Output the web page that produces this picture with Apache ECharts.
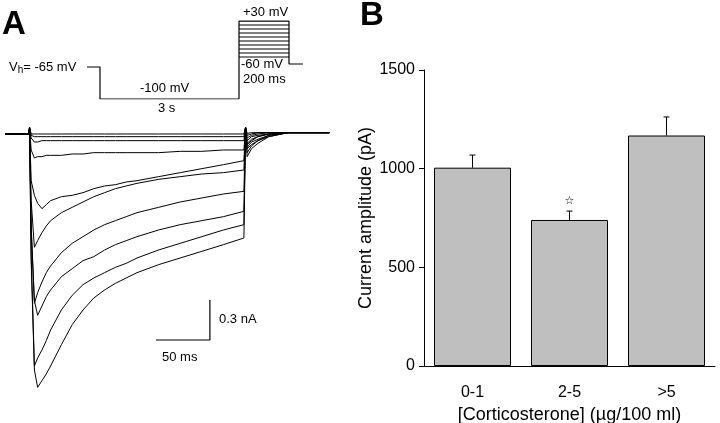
<!DOCTYPE html>
<html>
<head>
<meta charset="UTF-8">
<title>Corticosterone current</title>
<script src="https://cdn.jsdelivr.net/npm/echarts@6/dist/echarts.min.js"></script>
<style>
    body { margin: 0; padding: 0; background: #fff; }
    #chart { width: 720px; height: 423px; }
</style>
</head>
<body>
<div id="chart"></div>
<script>
// ---- panel A: current traces (time in ms, current in nA) ----
var traceTimes = [-22, -2, 0, 0.5, 2, 5, 8, 12, 16, 20, 30, 40, 50, 60, 70, 80, 90, 100,
                  120, 140, 160, 180, 199, 200, 200.5, 202, 206, 212, 222, 240, 260, 278];

var trace1  = [0, 0, 0, 0.05, 0, 0, 0, 0, 0, 0, 0, 0, 0, 0, 0, 0, 0, 0,
               0, 0, 0, 0, 0, 0, 0.05, 0.005, 0.01, 0.01, 0.01, 0.01, 0.01, 0.01];
var trace2  = [0, 0, 0, 0.05, -0.01, -0.02, -0.02, -0.02, -0.02, -0.02, -0.02, -0.02, -0.02, -0.02, -0.02, -0.02, -0.02, -0.02,
               -0.02, -0.02, -0.02, -0.02, -0.02, -0.02, 0.05, -0.01, 0, 0.01, 0.01, 0.01, 0.01, 0.01];
var trace3  = [0, 0, 0, 0.05, -0.03, -0.06, -0.06, -0.05, -0.05, -0.05, -0.05, -0.05, -0.05, -0.05, -0.05, -0.05, -0.05, -0.05,
               -0.05, -0.05, -0.05, -0.05, -0.05, -0.05, 0.05, -0.03, -0.01, 0, 0.01, 0.01, 0.01, 0.01];
var trace4  = [0, 0, 0, 0.05, -0.12, -0.18, -0.17, -0.17, -0.16, -0.16, -0.16, -0.15, -0.15, -0.14, -0.14, -0.14, -0.14, -0.14,
               -0.14, -0.13, -0.13, -0.12, -0.12, -0.12, 0.05, -0.05, -0.02, -0.01, 0, 0.01, 0.01, 0.01];
var trace5  = [0, 0, 0, 0.05, -0.35, -0.46, -0.52, -0.56, -0.53, -0.50, -0.47, -0.46, -0.44, -0.41, -0.39, -0.38, -0.36, -0.35,
               -0.32, -0.29, -0.26, -0.23, -0.20, -0.20, 0.05, -0.07, -0.04, -0.02, 0, 0.01, 0.01, 0.01];
var trace6  = [0, 0, 0, 0.05, -0.50, -0.85, -0.80, -0.74, -0.69, -0.65, -0.59, -0.55, -0.51, -0.47, -0.44, -0.41, -0.39, -0.37,
               -0.34, -0.32, -0.30, -0.29, -0.27, -0.27, 0.05, -0.08, -0.05, -0.02, 0, 0.01, 0.01, 0.01];
var trace7  = [0, 0, 0, 0.05, -0.68, -1.27, -1.19, -1.11, -1.04, -0.99, -0.89, -0.82, -0.77, -0.72, -0.68, -0.65, -0.62, -0.59,
               -0.55, -0.51, -0.48, -0.45, -0.43, -0.43, 0.05, -0.10, -0.06, -0.04, -0.01, 0.01, 0.01, 0.01];
var trace8  = [0, 0, 0, 0.05, -0.72, -1.25, -1.36, -1.29, -1.22, -1.17, -1.07, -1.01, -0.95, -0.92, -0.87, -0.83, -0.80, -0.77,
               -0.72, -0.68, -0.65, -0.62, -0.58, -0.58, 0.05, -0.11, -0.08, -0.05, -0.01, 0.01, 0.01, 0.01];
var trace9  = [0, 0, 0, 0.05, -0.91, -1.74, -1.68, -1.62, -1.55, -1.47, -1.32, -1.21, -1.13, -1.08, -1.04, -1.00, -0.97, -0.93,
               -0.87, -0.82, -0.77, -0.72, -0.68, -0.68, 0.05, -0.14, -0.09, -0.05, -0.02, 0.01, 0.01, 0.01];
var trace10 = [0, 0, 0, 0.05, -0.95, -1.77, -1.90, -1.85, -1.80, -1.74, -1.58, -1.43, -1.32, -1.23, -1.17, -1.12, -1.08, -1.04,
               -0.98, -0.93, -0.88, -0.83, -0.78, -0.78, 0.05, -0.17, -0.11, -0.07, -0.02, 0.01, 0.01, 0.01];

var traces = [trace1, trace2, trace3, trace4, trace5, trace6, trace7, trace8, trace9, trace10];

// scale bar: 50 ms x 0.3 nA
var scaleBarT = [117.5, 167.5, 167.5];
var scaleBarI = [-1.545, -1.545, -1.245];

// ---- voltage protocol, drawn schematically (not to scale) ----
var protoPathX = [0, 13, 13, 152, 152, 202, 202, 216];
var protoPathY = [32, 32, 0, 0, 78, 78, 35, 35];
var testStepY = [78, 74, 70, 66, 62, 58, 54, 50, 46, 42];

// ---- panel B: current amplitude vs corticosterone ----
var groups = ['0-1', '2-5', '>5'];
var amplitude = [1005, 740, 1168];
var amplitudeSem = [64, 45, 94];
var significance = ['', '\u2606', ''];
var yTicks = [0, 500, 1000, 1500];

var chart = echarts.init(document.getElementById('chart'));

function zip(xs, ys) {
    return xs.map(function (x, i) { return [x, ys[i]]; });
}

var series = [];

traces.forEach(function (tr, i) {
    series.push({
        name: 'trace' + (i + 1),
        type: 'line',
        xAxisIndex: 0, yAxisIndex: 0,
        data: zip(traceTimes, tr),
        showSymbol: false,
        lineStyle: { color: '#000', width: 1 },
        silent: true
    });
});

series.push({
    name: 'scalebar',
    type: 'line',
    xAxisIndex: 0, yAxisIndex: 0,
    data: zip(scaleBarT, scaleBarI),
    showSymbol: false,
    lineStyle: { color: '#000', width: 1.2 }
});

series.push({
    name: 'protocol',
    type: 'line',
    xAxisIndex: 1, yAxisIndex: 1,
    data: zip(protoPathX, protoPathY),
    showSymbol: false,
    lineStyle: { color: '#000', width: 1.2 }
});

testStepY.forEach(function (lv) {
    series.push({
        type: 'line',
        xAxisIndex: 1, yAxisIndex: 1,
        data: [[152, lv], [202, lv]],
        showSymbol: false,
        lineStyle: { color: '#000', width: 1 }
    });
});

series.push({
    name: 'amplitude',
    type: 'bar',
    xAxisIndex: 2, yAxisIndex: 2,
    data: amplitude,
    barWidth: 77,
    itemStyle: { color: '#bfbfbf', borderColor: '#000', borderWidth: 1 }
});

series.push({
    name: 'sem',
    type: 'custom',
    xAxisIndex: 2, yAxisIndex: 2,
    data: amplitude.map(function (v, i) { return [i, v, v + amplitudeSem[i]]; }),
    renderItem: function (params, api) {
        var base = api.coord([api.value(0), api.value(1)]);
        var top = api.coord([api.value(0), api.value(2)]);
        var star = significance[params.dataIndex];
        var children = [
            { type: 'line', shape: { x1: base[0], y1: base[1], x2: top[0], y2: top[1] },
              style: { stroke: '#000', lineWidth: 1 } },
            { type: 'line', shape: { x1: top[0] - 3, y1: top[1], x2: top[0] + 3, y2: top[1] },
              style: { stroke: '#000', lineWidth: 1 } }
        ];
        if (star) {
            children.push({ type: 'text', x: top[0], y: top[1] - 10,
                style: { text: star, fontSize: 11, fill: '#000', align: 'center', verticalAlign: 'middle',
                         fontFamily: 'DejaVu Sans' } });
        }
        return { type: 'group', children: children };
    },
    z: 5
});

var txt = { fontFamily: 'Liberation Sans', fill: '#000' };
function label(text, x, y, size, extra) {
    var s = Object.assign({ text: text, fontSize: size, verticalAlign: 'middle' }, txt, extra || {});
    return { type: 'text', x: x, y: y, style: s };
}

var option = {
    animation: false,
    backgroundColor: '#fff',
    textStyle: { fontFamily: 'Liberation Sans', color: '#000' },
    grid: [
        { left: 2, top: 107.33, width: 329.4, height: 293.33, outerBoundsMode: 'none' },
        { left: 87, top: 21, width: 216, height: 78, outerBoundsMode: 'none' },
        { left: 424, right: 5, top: 70, bottom: 57, outerBoundsMode: 'none' }
    ],
    xAxis: [
        { gridIndex: 0, type: 'value', min: -25, max: 280, show: false },
        { gridIndex: 1, type: 'value', min: 0, max: 216, show: false },
        {
            gridIndex: 2, type: 'category', data: groups,
            axisLine: { lineStyle: { color: '#000', width: 1 } },
            axisTick: { show: false },
            axisLabel: { color: '#000', fontSize: 16, margin: 19 },
            name: '[Corticosterone] (\u00b5g/100 ml)',
            nameLocation: 'middle', nameGap: 36,
            nameTextStyle: { color: '#000', fontSize: 18 }
        }
    ],
    yAxis: [
        { gridIndex: 0, type: 'value', min: -2.0, max: 0.2, show: false },
        { gridIndex: 1, type: 'value', min: 0, max: 78, show: false },
        {
            gridIndex: 2, type: 'value', min: yTicks[0], max: yTicks[yTicks.length - 1], interval: 500,
            axisLine: { show: true, lineStyle: { color: '#000', width: 1 } },
            axisTick: { show: true, length: 5, lineStyle: { color: '#000' } },
            axisLabel: { color: '#000', fontSize: 16, margin: 9, formatter: function (v) { return String(v); } },
            splitLine: { show: false },
            name: 'Current amplitude (pA)',
            nameLocation: 'middle', nameGap: 40,
            nameTextStyle: { color: '#000', fontSize: 18 }
        }
    ],
    graphic: [
        label('A', 2, 25, 33, { fontWeight: 'bold' }),
        label('B', 360, 16, 33, { fontWeight: 'bold' }),
        { type: 'text', x: 9, y: 67, style: Object.assign({
            text: '{v|V}{s|h}{v|= -65 mV}', verticalAlign: 'middle',
            rich: { v: { fontSize: 13, fontFamily: 'Liberation Sans' },
                    s: { fontSize: 10, fontFamily: 'Liberation Sans', verticalAlign: 'bottom', padding: [6, 0, 0, 0] } }
          }, txt) },
        label('-100 mV', 140, 88, 13),
        label('3 s', 158, 108, 13),
        label('+30 mV', 243, 12, 13),
        label('-60 mV', 241, 64, 13),
        label('200 ms', 243, 79, 13),
        label('0.3 nA', 219, 319, 13),
        label('50 ms', 162, 357, 13)
    ],
    series: series
};

chart.setOption(option);
</script>
</body>
</html>
